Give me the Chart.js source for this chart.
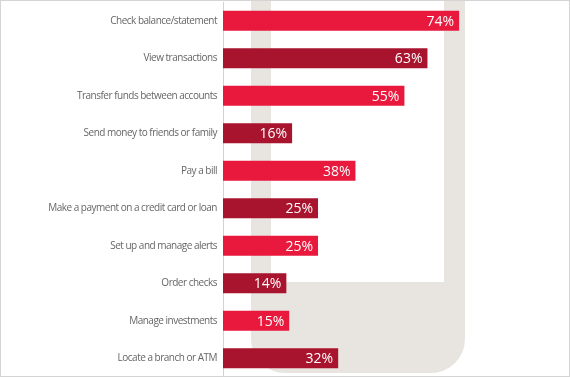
<!DOCTYPE html>
<html>
<head>
<meta charset="utf-8">
<script src="https://cdn.jsdelivr.net/npm/chart.js@4/dist/chart.umd.min.js"></script>
<style>
  html, body { margin: 0; padding: 0; background: #fff; }
  #wrap { position: relative; width: 570px; height: 377px; overflow: hidden; }
  /* phone outline behind the chart */
  #phone {
    position: absolute; left: 251px; top: -40px; width: 173px; height: 322px;
    border: solid #e8e5e1; border-width: 0 21px 91px 20px;
    border-radius: 0 0 34px 34px;
  }
  #frame { position: absolute; left: 0; top: 0; width: 568px; height: 375px; border: 1px solid #d4d4d4; pointer-events: none; }
  canvas { position: absolute; left: 0; top: 0; }
</style>
</head>
<body>
<div id="wrap">
  <div id="phone"></div>
  <canvas id="myBarChart" width="570" height="377"></canvas>
  <div id="frame"></div>
</div>
<script>
const categories = [
  "Check balance/statement",
  "View transactions",
  "Transfer funds between accounts",
  "Send money to friends or family",
  "Pay a bill",
  "Make a payment on a credit card or loan",
  "Set up and manage alerts",
  "Order checks",
  "Manage investments",
  "Locate a branch or ATM"
];
const percents = [74, 63, 55, 16, 38, 25, 25, 14, 15, 32];
const barColors = ["#e8193c", "#a8132d"];

// tighter letters for the category labels
const tightLabels = {
  id: 'tightLabels',
  beforeDraw(chart) { chart.ctx.letterSpacing = '-0.5px'; },
  beforeDatasetsDraw(chart) { chart.ctx.letterSpacing = '0px'; }
};

// white value text at the right end of each bar
const valueLabels = {
  id: 'valueLabels',
  afterDatasetsDraw(chart) {
    const ctx = chart.ctx;
    const meta = chart.getDatasetMeta(0);
    ctx.save();
    ctx.fillStyle = '#ffffff';
    ctx.font = '14px "Open Sans", sans-serif';
    ctx.textAlign = 'right';
    ctx.textBaseline = 'middle';
    meta.data.forEach((bar, i) => {
      ctx.fillText(percents[i] + '%', bar.x - 5, bar.y + 1);
    });
    ctx.restore();
  }
};

const config = {
  type: 'bar',
  data: {
    labels: categories,
    datasets: [{
      data: percents,
      base: -8,
      backgroundColor: categories.map((c, i) => barColors[i % 2]),
      borderWidth: 0,
      barPercentage: 0.9,
      categoryPercentage: 0.59
    }]
  },
  plugins: [tightLabels, valueLabels],
  options: {
    indexAxis: 'y',
    responsive: false,
    animation: false,
    layout: { padding: { top: 2, right: 36, bottom: 0, left: 0 } },
    scales: {
      x: {
        min: -8,
        max: 100,
        display: false
      },
      y: {
        afterFit(scale) {
          scale.width = 223;
          scale.paddingTop = 0;
          scale.paddingBottom = 0;
        },
        grid: { display: false, drawTicks: false },
        border: { display: true, color: '#d2d2d2', width: 1 },
        ticks: {
          color: '#666666',
          padding: 6,
          font: { family: '"Open Sans", sans-serif', size: 10 }
        }
      }
    },
    plugins: {
      legend: { display: false },
      tooltip: { enabled: false }
    }
  }
};

new Chart(document.getElementById('myBarChart'), config);
</script>
</body>
</html>
